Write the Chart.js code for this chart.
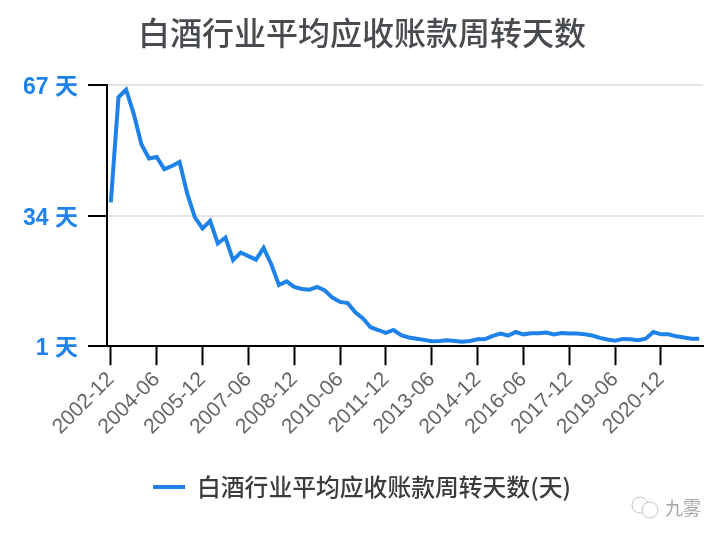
<!DOCTYPE html>
<html><head><meta charset="utf-8">
<style>html,body{margin:0;padding:0;background:#fff}#wrap{width:724px;height:540px}</style>
<script src="https://cdn.jsdelivr.net/npm/chart.js@4"></script>
</head><body><div id="wrap"><canvas id="c" width="724" height="540"></canvas></div>
<script>
const TITLE = '白酒行业平均应收账款周转天数';
const SERIES_NAME = '白酒行业平均应收账款周转天数(天)';
const WATERMARK = '九雾';
const startYear = 2002;
const values = [37.4,64.0,65.9,59.8,52.1,48.5,48.9,45.8,46.6,47.6,39.6,33.6,30.8,32.7,27.0,28.5,22.8,24.7,23.8,22.9,25.9,21.7,16.5,17.4,16.0,15.5,15.3,16.0,15.1,13.3,12.2,11.9,9.6,8.0,5.8,5.1,4.35,5.1,3.8,3.2,2.9,2.6,2.25,2.3,2.5,2.3,2.1,2.3,2.75,2.8,3.6,4.2,3.7,4.6,4.0,4.3,4.3,4.45,4.0,4.35,4.2,4.2,4.0,3.7,3.1,2.7,2.4,2.85,2.75,2.5,2.9,4.6,4.0,4.0,3.5,3.2,2.9,2.9];
const quarterMonths = ['12','03','06','09'];
const categories = values.map((_, i) => {
  const q = i % 4;
  const y = startYear + Math.floor(i / 4) + (q === 0 ? 0 : 1);
  return y + '-' + quarterMonths[q];
});
const yTicks = [1, 34, 67];
const blue = '#1e82e8';
const FONT = '"Noto Sans CJK SC","Liberation Sans",Arial,sans-serif';
const LATIN = '"Liberation Sans","Noto Sans CJK SC",Arial,sans-serif';

const watermark = {
  id: 'watermark',
  afterDraw(chart) {
    const g = chart.ctx;
    g.save();
    g.strokeStyle = '#c4c4c4'; g.lineWidth = 1; g.fillStyle = '#fff';
    g.beginPath(); g.ellipse(640, 505, 8, 8, 0, 0, Math.PI * 2); g.stroke();
    g.beginPath(); g.ellipse(650, 510, 8, 8, 0, 0, Math.PI * 2); g.fill(); g.stroke();
    g.fillStyle = '#a6a6a6'; g.font = '18px ' + FONT; g.textBaseline = 'middle'; g.textAlign = 'left';
    g.fillText(WATERMARK, 665, 508);
    g.restore();
  }
};

new Chart(document.getElementById('c'), {
  type: 'line',
  data: { labels: categories, datasets: [{
    label: SERIES_NAME, data: values, borderColor: blue, backgroundColor: blue,
    borderWidth: 4, pointRadius: 0, tension: 0, fill: false
  }]},
  plugins: [watermark],
  options: {
    responsive: false, animation: false,
    layout: { padding: { left: 21, right: 21, top: 14, bottom: 31 } },
    plugins: {
      title: { display: true, text: TITLE, color: '#484b4f',
        font: { size: 32, family: FONT, weight: '500' }, padding: { top: 0, bottom: 33 } },
      legend: { position: 'bottom', labels: { color: '#3c3c3c', boxWidth: 32, boxHeight: 4, padding: 10,
        font: { size: 23.8, family: FONT, weight: '500' },
        generateLabels(chart) {
          return Chart.defaults.plugins.legend.labels.generateLabels(chart).map(l => ({ ...l, lineWidth: 0 }));
        } } },
      tooltip: { enabled: false }
    },
    scales: {
      x: {
        offset: true,
        border: { color: '#000', width: 2 },
        grid: { display: true, drawOnChartArea: false, drawTicks: true, tickLength: 19, tickColor: '#000', tickWidth: 2, offset: false },
        ticks: { autoSkip: false, maxRotation: 45, minRotation: 45, color: '#666', padding: 2,
          font: { size: 21, family: LATIN },
          callback(v, i) { return i % 6 === 0 ? categories[i] : null; } },
        afterFit(s) { s.height = 119; }
      },
      y: {
        min: 1, max: 67,
        border: { color: '#000', width: 2 },
        grid: { color: '#e5e5e5', lineWidth: 2, tickLength: 19, tickColor: '#000', tickWidth: 2 },
        afterBuildTicks(s) { s.ticks = yTicks.map(v => ({ value: v })); },
        ticks: { color: blue, padding: 10, font: { size: 23, family: LATIN, weight: '700' },
          callback(v) { return v + ' 天'; } },
        afterFit(s) {
          s.width = 86;
          if (!s._labelShifted) {
            const orig = s._computeLabelItems;
            s._computeLabelItems = function (ca) {
              return orig.call(this, ca).map(it => ({ ...it, options: { ...it.options,
                translation: [it.options.translation[0], it.options.translation[1] + 2.5] } }));
            };
            s._labelShifted = true;
          }
        }
      }
    }
  }
});
</script></body></html>
